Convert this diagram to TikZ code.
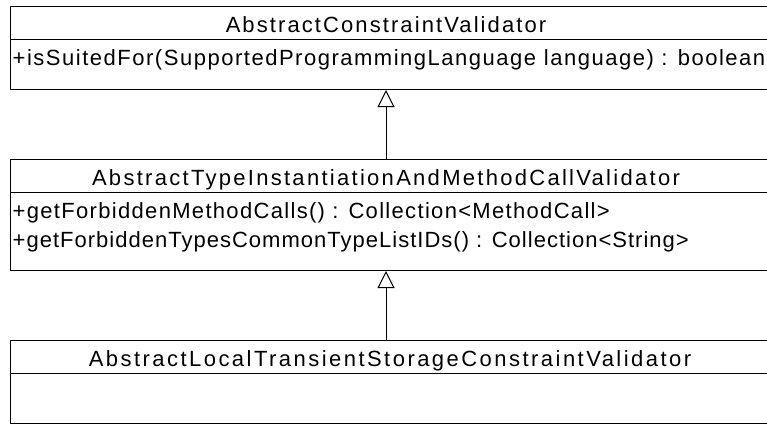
\documentclass[tikz,border=0pt]{standalone}
\usepackage{fontspec}
\setmainfont{Liberation Sans}
\usetikzlibrary{arrows.meta}
\newcommand{\umlsp}[1]{\fontsize{22}{26}\selectfont\addfontfeature{LetterSpace=#1}}
\begin{document}
\begin{tikzpicture}[x=1pt,y=-1pt,
  compartment/.style={draw=black, line width=1pt, inner sep=0pt, minimum width=759pt, anchor=north west},
  titletext/.style={inner sep=0pt, anchor=base},
  membertext/.style={inner sep=0pt, anchor=base west},
  inherit/.style={draw=black, line width=1pt, -{Triangle[open, width=17pt, length=17pt, line width=1pt]}}]
\useasboundingbox (0,0) rectangle (767,423);
\begin{scope}
\clip (0,0) rectangle (767,423);
% class 1
\node[compartment, minimum height=33pt] (c1t) at (10,6) {};
\node[compartment, minimum height=50pt] (c1b) at (10,39) {};
\node[titletext, font=\umlsp{9.5}] (c1name) at (386,32) {AbstractConstraintValidator};
\node[membertext, font=\umlsp{6.9}] (c1m1) at (12.5,65.5) {+isSuitedFor(SupportedProgrammingLanguage language) : boolean};
% class 2
\node[compartment, minimum height=33pt] (c2t) at (10,159) {};
\node[compartment, minimum height=78pt] (c2b) at (10,192) {};
\node[titletext, font=\umlsp{10.4}] (c2name) at (386,185.5) {AbstractTypeInstantiationAndMethodCallValidator};
\node[membertext, font=\umlsp{6.0}] (c2m1) at (12.5,218.5) {+getForbiddenMethodCalls() : Collection<MethodCall>};
\node[membertext, font=\umlsp{4.6}] (c2m2) at (12.5,247.5) {+getForbiddenTypesCommonTypeListIDs() : Collection<String>};
% class 3
\node[compartment, minimum height=33pt] (c3t) at (10,340) {};
\node[compartment, minimum height=50pt] (c3b) at (10,373) {};
\node[titletext, font=\umlsp{11.2}] (c3name) at (390,366) {AbstractLocalTransientStorageConstraintValidator};
% generalizations
\coordinate (a1s) at (c2t.north -| c1name.base);
\coordinate (a1e) at (c1b.south -| c1name.base);
\coordinate (a2s) at (c3t.north -| c1name.base);
\coordinate (a2e) at (c2b.south -| c1name.base);
\draw[inherit] (a1s) -- (a1e);
\draw[inherit] (a2s) -- (a2e);
\end{scope}
\end{tikzpicture}
\end{document}
